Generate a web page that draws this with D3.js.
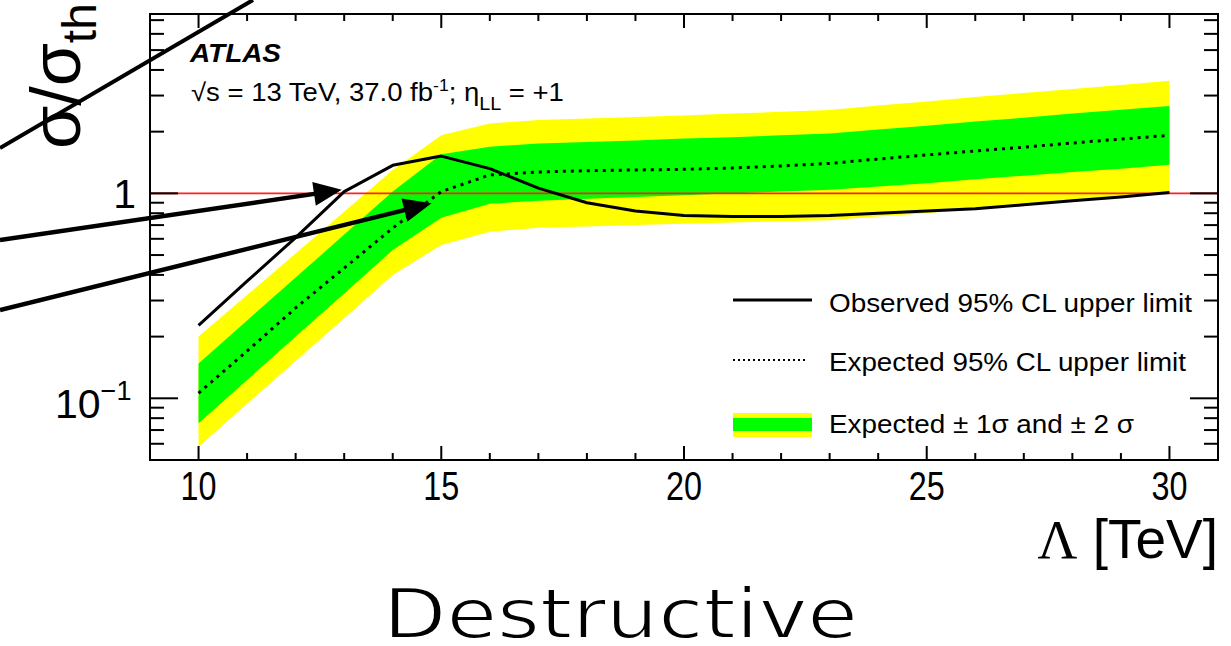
<!DOCTYPE html>
<html lang="en">
<head>
<meta charset="UTF-8">
<title>Destructive limit</title>
<script src="https://d3js.org/d3.v7.min.js"></script>
<style>
  body { margin: 0; background: #fff; }
  text { font-family: "Liberation Sans", Arial, sans-serif; }
</style>
</head>
<body>
<script>
// Lambda points in TeV
var lambda = [10, 11, 12, 13, 14, 15, 16, 17, 18, 19, 20, 21, 22, 23, 24, 25, 26, 27, 28, 29, 30];
// observed and expected sigma / sigma_th
var observed = [0.227, 0.373, 0.608, 1.02, 1.37, 1.52, 1.32, 1.06, 0.90, 0.82, 0.78, 0.77, 0.77, 0.78, 0.80, 0.82, 0.84, 0.88, 0.92, 0.96, 1.01];
var expected = [0.106, 0.170, 0.276, 0.432, 0.677, 1.02, 1.23, 1.27, 1.29, 1.30, 1.31, 1.33, 1.36, 1.40, 1.47, 1.54, 1.61, 1.68, 1.76, 1.84, 1.92];
// bands
var yellowHi = [0.200, 0.319, 0.509, 0.813, 1.30, 1.92, 2.19, 2.28, 2.32, 2.36, 2.40, 2.45, 2.50, 2.55, 2.68, 2.81, 2.95, 3.09, 3.23, 3.38, 3.54];
var greenHi  = [0.148, 0.240, 0.388, 0.629, 1.02, 1.55, 1.69, 1.75, 1.78, 1.81, 1.85, 1.88, 1.92, 1.96, 2.05, 2.14, 2.24, 2.34, 2.45, 2.56, 2.67];
var greenLo  = [0.0755, 0.123, 0.200, 0.325, 0.529, 0.76, 0.89, 0.92, 0.94, 0.96, 0.98, 1.00, 1.02, 1.04, 1.08, 1.12, 1.17, 1.22, 1.27, 1.32, 1.38];
var yellowLo = [0.058, 0.094, 0.152, 0.246, 0.40, 0.56, 0.65, 0.68, 0.69, 0.70, 0.71, 0.72, 0.73, 0.74, 0.77, 0.80, 0.84, 0.87, 0.91, 0.96, 1.01];
// tick labels
var xTickLabels = [10, 15, 20, 25, 30];
var xMinor = d3.range(9, 32);
var yMinor = [0.05, 0.06, 0.07, 0.08, 0.09, 0.2, 0.3, 0.4, 0.5, 0.6, 0.7, 0.8, 0.9, 2, 3, 4, 5, 6, 7];
var yMajor = [0.1, 1];
// arrow tips (in data units)
var arrowTips = [[12.95, 1.04], [14.80, 0.894]];

var w = 1231, h = 646;
var pLeft = 150, pRight = 1218, pTop = 14, pBottom = 460;

var x = d3.scaleLinear().domain([9, 31]).range([pLeft, pRight]);
var y = d3.scaleLog().domain([0.05, 7.5]).range([pBottom, pTop]);

var svg = d3.select("body").append("svg")
    .attr("width", w).attr("height", h);

var pts = lambda.map(function(l, i) {
    return { l: l, obs: observed[i], exp: expected[i], yh: yellowHi[i], gh: greenHi[i], gl: greenLo[i], yl: yellowLo[i] };
});

// bands
svg.append("path").datum(pts)
    .attr("fill", "#ffff00")
    .attr("d", d3.area().x(d => x(d.l)).y0(d => y(d.yl)).y1(d => y(d.yh)));
svg.append("path").datum(pts)
    .attr("fill", "#00ff00")
    .attr("d", d3.area().x(d => x(d.l)).y0(d => y(d.gl)).y1(d => y(d.gh)));

// sigma/sigma_th = 1
svg.append("line")
    .attr("x1", pLeft).attr("x2", pRight)
    .attr("y1", y(1)).attr("y2", y(1))
    .attr("stroke", "#ff2020").attr("stroke-width", 1.6);

// expected (dotted)
svg.append("path").datum(pts)
    .attr("fill", "none").attr("stroke", "#000")
    .attr("stroke-width", 3).attr("stroke-dasharray", "3,5")
    .attr("d", d3.line().x(d => x(d.l)).y(d => y(d.exp)));

// observed
svg.append("path").datum(pts)
    .attr("fill", "none").attr("stroke", "#000")
    .attr("stroke-width", 3).attr("stroke-linejoin", "round")
    .attr("d", d3.line().x(d => x(d.l)).y(d => y(d.obs)));

// frame + ticks
var axisG = svg.append("g").attr("stroke", "#000").attr("stroke-width", 2);
axisG.append("rect")
    .attr("x", pLeft).attr("y", pTop)
    .attr("width", pRight - pLeft).attr("height", pBottom - pTop)
    .attr("fill", "none");

xMinor.forEach(function(v) {
    var len = (v % 5 === 0) ? 14 : 7;
    axisG.append("line").attr("x1", x(v)).attr("x2", x(v)).attr("y1", pBottom).attr("y2", pBottom - len);
    axisG.append("line").attr("x1", x(v)).attr("x2", x(v)).attr("y1", pTop).attr("y2", pTop + len);
});
yMinor.forEach(function(v) {
    axisG.append("line").attr("x1", pLeft).attr("x2", pLeft + 14).attr("y1", y(v)).attr("y2", y(v));
    axisG.append("line").attr("x1", pRight).attr("x2", pRight - 14).attr("y1", y(v)).attr("y2", y(v));
});
yMajor.forEach(function(v) {
    axisG.append("line").attr("x1", pLeft).attr("x2", pLeft + 28).attr("y1", y(v)).attr("y2", y(v));
    axisG.append("line").attr("x1", pRight).attr("x2", pRight - 28).attr("y1", y(v)).attr("y2", y(v));
});

// x tick labels
svg.selectAll(".xl").data(xTickLabels).join("text")
    .attr("class", "xl")
    .attr("x", d => x(d)).attr("y", 500)
    .attr("text-anchor", "middle")
    .attr("font-size", 41)
    .attr("textLength", 36).attr("lengthAdjust", "spacingAndGlyphs")
    .text(d => d);

// y tick labels
svg.append("text").attr("x", 136).attr("y", 208)
    .attr("text-anchor", "end").attr("font-size", 41)
    .text("1");
var yl = svg.append("text").attr("x", 55).attr("y", 418).attr("font-size", 41);
yl.append("tspan").text("10");
yl.append("tspan").attr("dy", -18).attr("font-size", 27).text("\u22121");

// axis titles
var xt = svg.append("text").attr("x", pRight).attr("y", 558)
    .attr("text-anchor", "end").attr("font-size", 55);
xt.append("tspan").attr("font-family", "Liberation Serif, serif").text("\u039b");
xt.append("tspan").text(" [TeV]");

var ytl = svg.append("text")
    .attr("transform", "translate(80,149) rotate(-90)")
    .attr("font-size", 70);
ytl.append("tspan").text("\u03c3/\u03c3");
ytl.append("tspan").attr("dy", 16).attr("font-size", 48).text("th");

// ATLAS label
svg.append("text").attr("x", 190).attr("y", 62)
    .attr("font-size", 26).attr("font-weight", "bold").attr("font-style", "italic")
    .attr("textLength", 91).attr("lengthAdjust", "spacingAndGlyphs")
    .text("ATLAS");

var info = svg.append("g").attr("transform", "translate(191,101) scale(1.1,1)")
    .append("text").attr("font-size", 25);
info.append("tspan").text("\u221as = 13 TeV, 37.0 fb");
info.append("tspan").attr("dy", -10).attr("font-size", 16).text("-1");
info.append("tspan").attr("dy", 10).text("; \u03b7");
info.append("tspan").attr("dy", 9).attr("font-size", 18).text("LL");
info.append("tspan").attr("dy", -9).text(" = +1");

// legend
var legX0 = 733, legX1 = 812;
svg.append("line").attr("x1", legX0).attr("x2", legX1).attr("y1", 300).attr("y2", 300)
    .attr("stroke", "#000").attr("stroke-width", 3);
svg.append("line").attr("x1", legX0).attr("x2", legX1 - 4).attr("y1", 360).attr("y2", 360)
    .attr("stroke", "#000").attr("stroke-width", 2).attr("stroke-dasharray", "2,3");
svg.append("rect").attr("x", legX0).attr("y", 413).attr("width", legX1 - legX0).attr("height", 24)
    .attr("fill", "#ffff00");
svg.append("rect").attr("x", legX0).attr("y", 418).attr("width", legX1 - legX0).attr("height", 13)
    .attr("fill", "#00ff00");

var legendTexts = [["Observed 95% CL upper limit", 312, 363], ["Expected 95% CL upper limit", 371, 357], ["Expected \u00b1 1\u03c3 and \u00b1 2 \u03c3", 433, 305]];
legendTexts.forEach(function(t) {
    svg.append("text").attr("x", 829).attr("y", t[1]).attr("font-size", 25)
        .attr("textLength", t[2]).attr("lengthAdjust", "spacingAndGlyphs")
        .text(t[0]);
});

// caption, thinned with a white outline to look like a light weight
svg.append("text").attr("x", 383).attr("y", 638)
    .attr("font-size", 70)
    .style("font-family", "'DejaVu Sans', sans-serif")
    .attr("fill", "#000").attr("stroke", "#fff").attr("stroke-width", 1.8)
    .attr("textLength", 475).attr("lengthAdjust", "spacingAndGlyphs")
    .text("Destructive");

// annotation lines and arrows
var ann = svg.append("g").attr("stroke", "#000").attr("fill", "#000");
ann.append("line").attr("x1", 253).attr("y1", 0).attr("x2", 0).attr("y2", 148).attr("stroke-width", 4);

var arrowStarts = [[0, 240], [0, 310]];
arrowTips.forEach(function(t, i) {
    var tx = x(t[0]), ty = y(t[1]);
    var sx = arrowStarts[i][0], sy = arrowStarts[i][1];
    var ang = Math.atan2(ty - sy, tx - sx);
    var hl = 28, hw = 12;
    var bx = tx - hl * Math.cos(ang), by = ty - hl * Math.sin(ang);
    ann.append("line").attr("x1", sx).attr("y1", sy).attr("x2", bx + 2 * Math.cos(ang)).attr("y2", by + 2 * Math.sin(ang)).attr("stroke-width", 4.5);
    var p1 = [bx + hw * Math.sin(ang), by - hw * Math.cos(ang)];
    var p2 = [bx - hw * Math.sin(ang), by + hw * Math.cos(ang)];
    ann.append("path").attr("stroke", "none")
        .attr("d", "M" + tx + "," + ty + "L" + p1 + "L" + p2 + "Z");
});
</script>
</body>
</html>
